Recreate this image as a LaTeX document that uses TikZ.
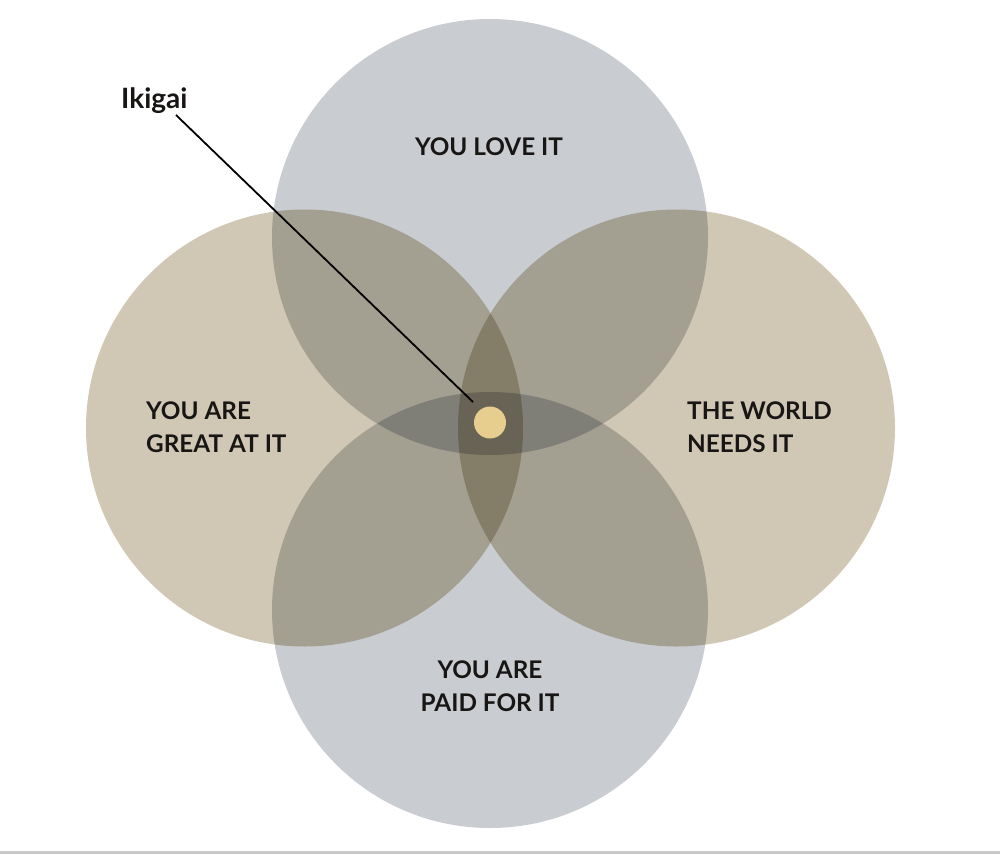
\documentclass[tikz,border=0pt]{standalone}
\usepackage{fontspec}
\setmainfont{Lato}
\definecolor{cGray}{RGB}{201,204,208}
\definecolor{cBeige}{RGB}{208,200,180}
\definecolor{cDot}{RGB}{232,206,142}
\definecolor{cText}{RGB}{24,22,20}
\definecolor{cRule}{RGB}{200,200,200}
\tikzset{
  lbl/.style={text=cText, inner sep=0pt, font=\bfseries\fontsize{24.3}{33.5}\selectfont},
  ttl/.style={text=cText, inner sep=0pt, font=\bfseries\fontsize{28}{34}\selectfont},
  conn/.style={draw=black, line width=1.8pt},
}
\begin{document}
\begin{tikzpicture}[x=1pt,y=-1pt]
\useasboundingbox (0,0) rectangle (1000,854);
\fill[white] (0,0) rectangle (1000,854);
\begin{scope}[blend mode=multiply]
  \fill[cGray]  (490,237)   circle[radius=218];
  \fill[cGray]  (490,610)   circle[radius=218];
  \fill[cBeige] (304.5,428) circle[radius=218.5];
  \fill[cBeige] (676.5,428) circle[radius=218.5];
\end{scope}
\fill[cRule] (0,851) rectangle (1000,854);
\node[circle, fill=cDot, minimum size=32pt, inner sep=0pt] (dot) at (490,422.5) {};
\node[lbl, anchor=base] (love) at (489,155.5) {YOU LOVE IT};
\node[lbl, anchor=base west, align=left] (great) at (146,452.5) {YOU ARE\\GREAT AT IT};
\node[lbl, anchor=base west, align=left] (world) at (687,452.5) {THE WORLD\\NEEDS IT};
\node[lbl, anchor=base, align=center] (paid) at (490,711.5) {YOU ARE\\PAID FOR IT};
\node[ttl, anchor=base west] (ikigai) at (121,108) {Ikigai};
\coordinate (lineStart) at (176,115);
\coordinate (lineEnd) at (473,402);
\draw[conn] (lineStart) -- (lineEnd);
\end{tikzpicture}
\end{document}
